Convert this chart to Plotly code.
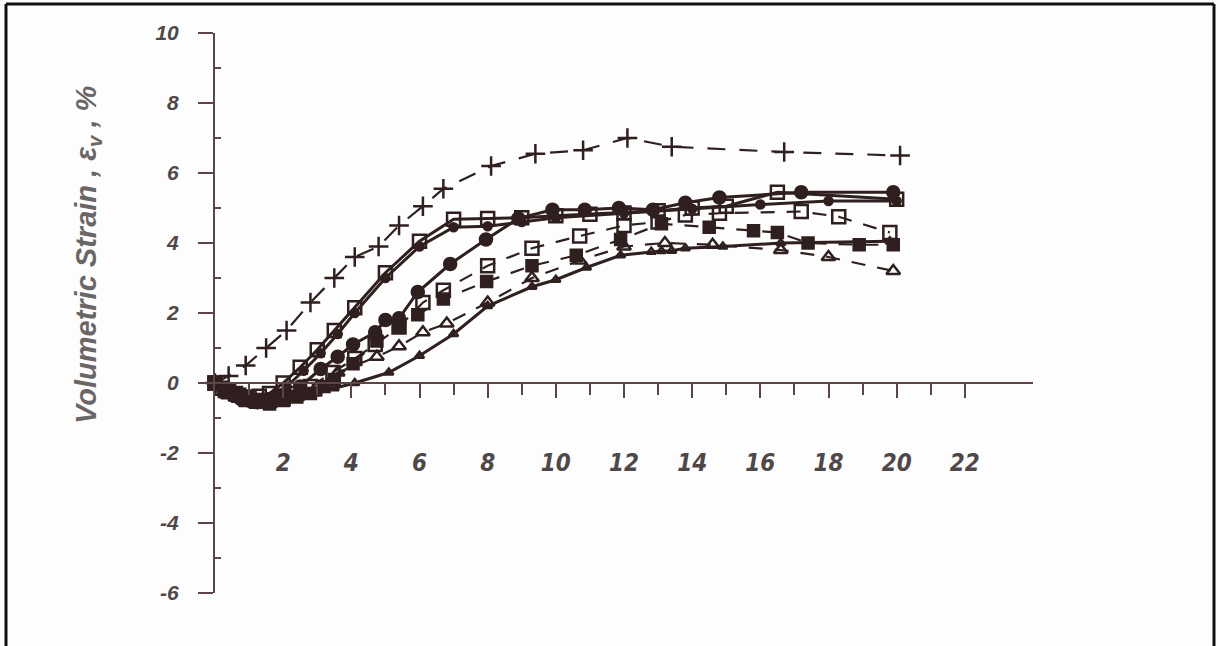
import plotly.graph_objects as go

# ---------------- data ----------------
# "+" dashed
a_x = [0, 0.4, 0.9, 1.5, 2.1, 2.8, 3.5, 4.1, 4.8, 5.4, 6.1, 6.7, 8.1, 9.4, 10.8, 12.1, 13.4, 16.7, 20.1]
a_y = [0, 0.2, 0.5, 1.0, 1.5, 2.3, 3.0, 3.6, 3.9, 4.5, 5.05, 5.55, 6.2, 6.55, 6.65, 7.0, 6.75, 6.6, 6.5]

# open squares, solid (fast rise)
b_x = [0, 0.2, 0.4, 0.7, 1.0, 1.3, 1.6, 2.0, 2.5, 3.0, 3.5, 4.1, 5.0, 6.0, 7.0, 8.0, 9.0, 10.0, 11.0, 12.0, 13.0, 14.0, 15.0, 16.5, 20.0]
b_y = [0, -0.15, -0.25, -0.35, -0.4, -0.38, -0.3, 0.0, 0.45, 0.95, 1.5, 2.15, 3.15, 4.05, 4.68, 4.7, 4.72, 4.78, 4.82, 4.86, 4.92, 5.0, 5.05, 5.45, 5.25]

# small filled dots, solid (fast rise, just below)
b2_x = [0, 0.2, 0.4, 0.6, 0.8, 1.0, 1.2, 1.4, 1.6, 1.8, 2.1, 2.6, 3.1, 3.6, 4.1, 5.0, 6.0, 7.0, 8.0, 9.0, 10.0, 12.0, 14.0, 16.0, 18.0, 20.0]
b2_y = [0, -0.15, -0.25, -0.35, -0.45, -0.5, -0.5, -0.48, -0.4, -0.3, -0.1, 0.35, 0.85, 1.4, 2.0, 3.0, 3.9, 4.45, 4.48, 4.6, 4.72, 4.85, 4.98, 5.1, 5.2, 5.2]

# filled circles, solid
c_x = [0, 0.25, 0.5, 0.75, 1.0, 1.25, 1.5, 1.75, 2.0, 2.5, 3.1, 3.6, 4.05, 4.7, 5.0, 5.4, 5.95, 6.9, 7.95, 8.9, 9.9, 10.85, 11.85, 12.85, 13.8, 14.8, 17.2, 19.9]
c_y = [0, -0.2, -0.3, -0.45, -0.5, -0.55, -0.55, -0.5, -0.4, -0.1, 0.4, 0.75, 1.1, 1.45, 1.8, 1.85, 2.6, 3.4, 4.1, 4.7, 4.95, 4.95, 5.0, 4.95, 5.15, 5.3, 5.45, 5.45]

# open squares, dashed
d_x = [0, 0.3, 0.6, 0.9, 1.2, 1.6, 2.0, 2.4, 2.8, 3.46, 4.1, 4.7, 5.4, 6.1, 6.7, 8.0, 9.3, 10.7, 12.0, 13.0, 13.8, 14.8, 17.2, 18.3, 19.8]
d_y = [0, -0.2, -0.3, -0.45, -0.5, -0.5, -0.45, -0.3, -0.1, 0.3, 0.7, 1.1, 1.6, 2.3, 2.65, 3.35, 3.85, 4.2, 4.5, 4.6, 4.8, 4.85, 4.9, 4.75, 4.3]

# filled squares, dashed
e_x = [0, 0.3, 0.6, 0.9, 1.2, 1.6, 2.0, 2.4, 2.8, 3.2, 3.5, 4.05, 4.75, 5.4, 5.95, 6.7, 7.97, 9.3, 10.6, 11.9, 13.1, 14.5, 15.8, 16.5, 17.4, 18.9, 19.9]
e_y = [0, -0.25, -0.35, -0.5, -0.55, -0.6, -0.5, -0.4, -0.3, -0.1, 0.1, 0.55, 1.2, 1.6, 1.95, 2.4, 2.9, 3.35, 3.65, 4.1, 4.55, 4.45, 4.35, 4.3, 4.0, 3.95, 3.95]

# open triangles, dashed
f_x = [0, 0.3, 0.6, 0.9, 1.2, 1.6, 2.0, 2.5, 3.0, 3.6, 4.75, 5.4, 6.1, 6.8, 8.0, 9.3, 10.7, 12.0, 13.2, 14.6, 16.6, 18.0, 19.9]
f_y = [0, -0.2, -0.3, -0.45, -0.5, -0.5, -0.4, -0.25, -0.1, 0.3, 0.75, 1.05, 1.45, 1.7, 2.3, 3.0, 3.5, 3.9, 4.0, 3.95, 3.8, 3.6, 3.2]

# small open triangles, solid (slowest)
g_x = [0, 0.25, 0.5, 0.75, 1.0, 1.25, 1.5, 1.75, 2.0, 2.5, 3.0, 3.5, 4.1, 5.1, 6.0, 7.0, 8.0, 9.3, 10.0, 10.9, 11.9, 12.8, 13.1, 13.4, 13.8, 14.9, 16.6, 19.8]
g_y = [0, -0.15, -0.25, -0.35, -0.45, -0.5, -0.5, -0.48, -0.45, -0.4, -0.3, -0.15, 0, 0.3, 0.78, 1.4, 2.2, 2.75, 2.95, 3.3, 3.65, 3.75, 3.77, 3.78, 3.85, 3.9, 4.0, 4.05]

y_ticks = [-6, -4, -2, 0, 2, 4, 6, 8, 10]
y_minor = [-5, -3, -1, 1, 3, 5, 7, 9]
x_ticks = [2, 4, 6, 8, 10, 12, 14, 16, 18, 20, 22]
x_minor = [1, 3, 5, 7, 9, 11, 13, 15, 17, 19, 21]

# ---------------- styling ----------------
INK = "#2f1f1f"
AXIS = "#5b4545"
LABEL = "#4f4848"

fig = go.Figure()

def add(x, y, symbol, size, dash, lw=3, mlw=2.5):
    fig.add_trace(go.Scatter(
        x=x, y=y, mode="lines+markers",
        line=dict(color=INK, width=lw, dash=dash),
        marker=dict(symbol=symbol, size=size, color=INK,
                    line=dict(color=INK, width=mlw)),
        showlegend=False, cliponaxis=False))

add(a_x, a_y, "cross-thin", 14, "18px,14px", lw=2.2, mlw=2.5)
add(b_x, b_y, "square-open", 13, "solid")
add(b2_x, b2_y, "circle", 8, "solid")
add(c_x, c_y, "circle", 12, "solid")
add(d_x, d_y, "square-open", 13, "14px,12px", lw=2.2)
add(e_x, e_y, "square", 11, "14px,12px", lw=2.2)
add(f_x, f_y, "triangle-up-open", 12, "14px,12px", lw=2.2)
add(g_x, g_y, "triangle-up-open", 8, "solid")

tickfont_y = dict(family="Liberation Sans, Arial, sans-serif", size=21,
                  color=LABEL, weight="bold", style="italic")
tickfont_x = dict(family="Liberation Sans Narrow, DejaVu Sans Condensed, Liberation Sans, sans-serif",
                  size=24, color=LABEL, weight="bold", style="italic")

fig.update_layout(
    width=1218, height=646,
    margin=dict(l=215, r=185, t=33, b=53),
    paper_bgcolor="#fdfdfd", plot_bgcolor="#fdfdfd",
    xaxis=dict(range=[0, 24], showgrid=False, zeroline=False,
               anchor="free", position=0.375,
               showline=True, linecolor=AXIS, linewidth=2,
               tickmode="array", tickvals=x_ticks,
               ticktext=[str(v) for v in x_ticks],
               ticks="outside", ticklen=14, tickwidth=1.5, tickcolor=AXIS,
               minor=dict(tickmode="array", tickvals=x_minor, ticks="outside",
                          ticklen=11, tickwidth=1.5, tickcolor=AXIS),
               tickfont=tickfont_x, ticklabelstandoff=44),
    yaxis=dict(range=[-6, 10], showgrid=False, zeroline=False,
               showline=True, linecolor=AXIS, linewidth=2,
               tickmode="array", tickvals=y_ticks,
               ticktext=[str(v) for v in y_ticks],
               ticks="outside", ticklen=15, tickwidth=1.5, tickcolor=AXIS,
               minor=dict(tickmode="array", tickvals=y_minor, ticks="inside",
                          ticklen=6, tickwidth=1.5, tickcolor=AXIS),
               tickfont=tickfont_y, ticklabelstandoff=15),
)

# y-axis title placed like the scan (above centre)
fig.add_annotation(
    xref="paper", yref="paper", x=(88 - 215) / 818, y=(593 - 255) / 560,
    text="Volumetric Strain , ε<sub>v</sub> , %", textangle=-90,
    showarrow=False, xanchor="center", yanchor="middle",
    font=dict(family="Liberation Sans, Arial, sans-serif", size=29,
              color="#6a6666", weight="bold", style="italic"))

# page frame (left, top, right edges)
def px_x(p):
    return (p - 215) / 818

def px_y(p):
    return (593 - p) / 560

for x0, y0, x1, y1 in [(6, 4, 6, 660), (6, 4, 1214, 4), (1214, 4, 1214, 660)]:
    fig.add_shape(type="line", xref="paper", yref="paper",
                  x0=px_x(x0), y0=px_y(y0), x1=px_x(x1), y1=px_y(y1),
                  line=dict(color="#111111", width=3))

fig.write_html("out.html")
